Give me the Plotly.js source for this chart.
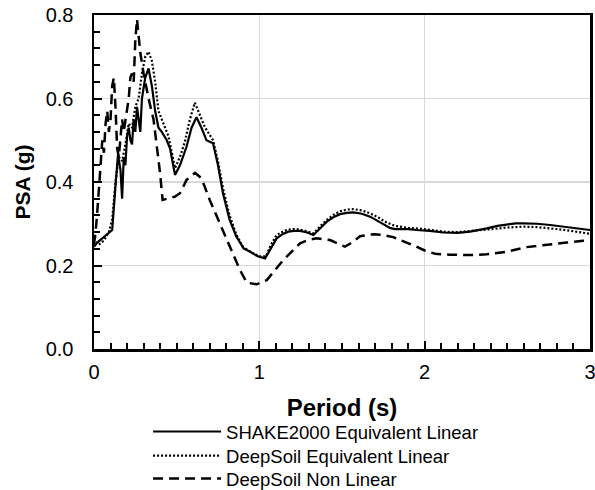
<!DOCTYPE html>
<html>
<head>
<meta charset="utf-8">
<script src="https://cdn.plot.ly/plotly-3.0.1.min.js"></script>
<style>html,body{margin:0;padding:0;background:#fff;}#chart{width:595px;height:490px;}</style>
</head>
<body>
<div id="chart"></div>
<script>
const seriesNames = ["SHAKE2000 Equivalent Linear", "DeepSoil Equivalent Linear", "DeepSoil Non Linear"];

const T_shake = [0, 0.02, 0.05, 0.08, 0.11, 0.13, 0.145, 0.16, 0.17, 0.18, 0.19, 0.2, 0.21, 0.22, 0.23, 0.24, 0.25, 0.26, 0.27, 0.28, 0.29, 0.31, 0.33, 0.35, 0.37, 0.39, 0.41, 0.44, 0.46, 0.49, 0.52, 0.56, 0.59, 0.62, 0.65, 0.68, 0.72, 0.75, 0.78, 0.82, 0.86, 0.905, 0.944, 0.99, 1.035, 1.07, 1.105, 1.14, 1.175, 1.21, 1.246, 1.29, 1.327, 1.37, 1.408, 1.45, 1.488, 1.53, 1.569, 1.62, 1.67, 1.71, 1.75, 1.79, 1.82, 1.9, 1.95, 2.03, 2.113, 2.2, 2.275, 2.33, 2.376, 2.44, 2.497, 2.55, 2.597, 2.68, 2.759, 2.85, 2.95, 3.0];
const PSA_shake = [0.245, 0.255, 0.265, 0.275, 0.285, 0.39, 0.465, 0.43, 0.36, 0.46, 0.44, 0.51, 0.53, 0.50, 0.49, 0.55, 0.52, 0.58, 0.55, 0.52, 0.60, 0.65, 0.672, 0.63, 0.57, 0.53, 0.52, 0.50, 0.48, 0.417, 0.44, 0.485, 0.53, 0.555, 0.53, 0.50, 0.493, 0.44, 0.373, 0.31, 0.27, 0.241, 0.233, 0.222, 0.217, 0.24, 0.265, 0.275, 0.281, 0.283, 0.283, 0.279, 0.273, 0.29, 0.305, 0.316, 0.323, 0.326, 0.327, 0.324, 0.317, 0.308, 0.299, 0.29, 0.287, 0.287, 0.285, 0.283, 0.279, 0.278, 0.281, 0.285, 0.289, 0.295, 0.299, 0.301, 0.301, 0.3, 0.297, 0.293, 0.287, 0.285];

const T_dsel = [0, 0.03, 0.06, 0.09, 0.11, 0.13, 0.15, 0.17, 0.19, 0.21, 0.23, 0.25, 0.27, 0.29, 0.31, 0.33, 0.35, 0.37, 0.39, 0.42, 0.45, 0.49, 0.52, 0.55, 0.58, 0.61, 0.64, 0.67, 0.72, 0.75, 0.78, 0.82, 0.86, 0.9, 0.95, 1.0, 1.04, 1.07, 1.105, 1.15, 1.19, 1.226, 1.27, 1.327, 1.37, 1.41, 1.45, 1.49, 1.53, 1.569, 1.62, 1.67, 1.72, 1.77, 1.82, 1.9, 1.98, 2.05, 2.113, 2.2, 2.3, 2.4, 2.5, 2.597, 2.68, 2.76, 2.85, 2.95, 3.0];
const PSA_dsel = [0.265, 0.25, 0.26, 0.28, 0.31, 0.40, 0.46, 0.45, 0.49, 0.54, 0.53, 0.58, 0.60, 0.66, 0.70, 0.712, 0.69, 0.64, 0.57, 0.54, 0.51, 0.433, 0.46, 0.497, 0.55, 0.59, 0.56, 0.532, 0.50, 0.45, 0.385, 0.32, 0.275, 0.245, 0.232, 0.222, 0.222, 0.25, 0.273, 0.283, 0.287, 0.287, 0.284, 0.277, 0.295, 0.31, 0.322, 0.33, 0.334, 0.335, 0.332, 0.325, 0.315, 0.303, 0.295, 0.29, 0.288, 0.285, 0.281, 0.28, 0.283, 0.287, 0.291, 0.293, 0.292, 0.289, 0.285, 0.279, 0.276];

const T_dsnl = [0, 0.01, 0.02, 0.03, 0.04, 0.05, 0.06, 0.07, 0.08, 0.09, 0.1, 0.11, 0.12, 0.13, 0.14, 0.15, 0.16, 0.17, 0.18, 0.19, 0.2, 0.21, 0.22, 0.23, 0.24, 0.25, 0.26, 0.27, 0.28, 0.3, 0.33, 0.36, 0.38, 0.4, 0.415, 0.45, 0.49, 0.52, 0.56, 0.611, 0.65, 0.7, 0.76, 0.82, 0.883, 0.924, 0.984, 1.045, 1.1, 1.145, 1.2, 1.246, 1.3, 1.347, 1.428, 1.518, 1.56, 1.609, 1.69, 1.75, 1.81, 1.88, 1.95, 2.0, 2.063, 2.15, 2.234, 2.3, 2.376, 2.497, 2.618, 2.759, 2.86, 2.96, 3.0];
const PSA_dsnl = [0.25, 0.28, 0.33, 0.40, 0.44, 0.50, 0.47, 0.54, 0.57, 0.52, 0.55, 0.63, 0.65, 0.58, 0.48, 0.46, 0.50, 0.55, 0.52, 0.55, 0.57, 0.60, 0.65, 0.66, 0.64, 0.74, 0.79, 0.75, 0.71, 0.66, 0.60, 0.55, 0.49, 0.42, 0.357, 0.36, 0.365, 0.373, 0.405, 0.422, 0.409, 0.357, 0.301, 0.245, 0.189, 0.159, 0.155, 0.165, 0.19, 0.213, 0.235, 0.253, 0.262, 0.265, 0.261, 0.245, 0.255, 0.27, 0.275, 0.273, 0.268, 0.257, 0.245, 0.236, 0.228, 0.226, 0.225, 0.225, 0.227, 0.233, 0.244, 0.251, 0.255, 0.259, 0.259];

const xRange = [0, 3];
const yRange = [0, 0.8];

const traces = [
  {x: T_shake, y: PSA_shake, name: seriesNames[0], mode: 'lines', legend: 'legend', line: {color: '#000', width: 2.2, dash: 'solid'}},
  {x: T_dsel, y: PSA_dsel, name: seriesNames[1], mode: 'lines', legend: 'legend2', line: {color: '#000', width: 2.2, dash: '2px,2px'}},
  {x: T_dsnl, y: PSA_dsnl, name: seriesNames[2], mode: 'lines', legend: 'legend3', line: {color: '#000', width: 2.5, dash: '10px,6px'}}
];

const fontFam = '"Liberation Sans", Arial, sans-serif';
function legendAt(y) {
  return {x: 0.109, xanchor: 'left', y: y, yanchor: 'top', orientation: 'v', itemwidth: 68,
          font: {family: fontFam, size: 18.5, color: '#000'}, bgcolor: 'rgba(0,0,0,0)'};
}
const layout = {
  width: 595, height: 490,
  margin: {l: 94, r: 5, t: 15, b: 141, autoexpand: false},
  paper_bgcolor: '#fff', plot_bgcolor: '#fff',
  font: {family: fontFam, color: '#000', size: 20},
  showlegend: true,
  legend: legendAt(-0.1916),
  legend2: legendAt(-0.2635),
  legend3: legendAt(-0.3323),
  xaxis: {
    range: xRange, tickmode: 'linear', tick0: 0, dtick: 1, automargin: false, ticklabeloverflow: 'allow',
    showline: true, linecolor: '#000', linewidth: 2.5, mirror: true, layer: 'above traces',
    ticks: 'inside', ticklen: 8, tickwidth: 2, tickcolor: '#000',
    showgrid: true, gridcolor: '#d9d9d9', gridwidth: 1.5, zeroline: false,
    minor: {tickmode: 'linear', tick0: 0, dtick: 0.1, ticks: 'inside', ticklen: 6, tickwidth: 2, tickcolor: '#000', showgrid: false},
    tickfont: {size: 20}, ticklabelstandoff: 3,
    title: {text: '<b>Period (s)</b>', font: {size: 24}, standoff: 18}
  },
  yaxis: {
    range: yRange, tickmode: 'linear', tick0: 0, dtick: 0.2, tickformat: '.1f', automargin: false, ticklabeloverflow: 'allow',
    showline: true, linecolor: '#000', linewidth: 2.5, mirror: true, layer: 'above traces',
    ticks: 'inside', ticklen: 8, tickwidth: 2, tickcolor: '#000',
    showgrid: true, gridcolor: '#d9d9d9', gridwidth: 1.5, zeroline: false,
    minor: {tickmode: 'linear', tick0: 0, dtick: 0.04, ticks: 'inside', ticklen: 6, tickwidth: 2, tickcolor: '#000', showgrid: false},
    tickfont: {size: 20}, ticklabelstandoff: 14,
    title: {text: '<b>PSA (g)</b>', font: {size: 21}, standoff: 10}
  }
};

Plotly.newPlot('chart', traces, layout, {staticPlot: true, displayModeBar: false});
</script>
</body>
</html>
